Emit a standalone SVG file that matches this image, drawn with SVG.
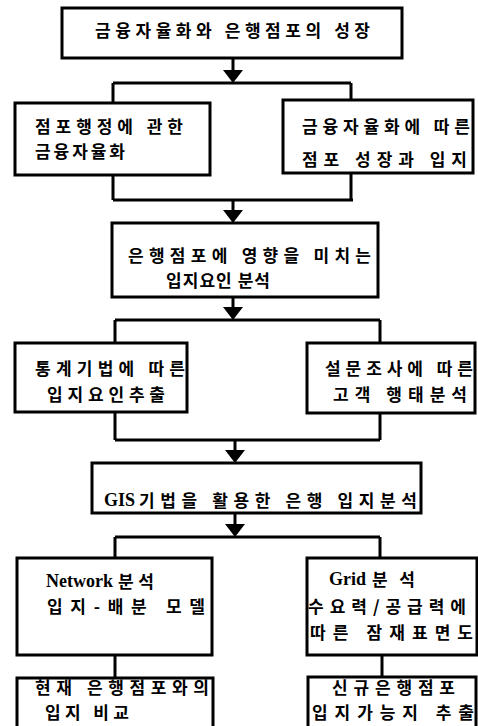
<svg xmlns="http://www.w3.org/2000/svg" width="478" height="726" viewBox="0 0 478 726">
<style>
.box{fill:#fff;stroke:#000;stroke-width:3}
.ln{fill:none;stroke:#000;stroke-width:3}
.t{font-family:"Noto Sans CJK KR","Noto Sans",sans-serif;font-weight:bold;font-size:17px;fill:#000}
.l{font-family:"Liberation Serif",serif;font-weight:bold;font-size:18px;fill:#000}
</style>
<rect width="478" height="726" fill="#fff"/>
<g id="connectors">
<path class="ln" d="M233,58 V72"/><path d="M223,70 L243,70 L233,83 Z"/>
<path class="ln" d="M113,83 H351 M113,83 V103 M351,83 V100"/>
<path class="ln" d="M113,175 V200 M351,173 V200 M113,200 H353 M233,200 V212"/><path d="M223,210 L243,210 L233,223 Z"/>
<path class="ln" d="M233,297 V309"/><path d="M223,307 L243,307 L233,320 Z"/>
<path class="ln" d="M115,320 H380 M115,320 V343 M380,320 V343"/>
<path class="ln" d="M115,412 V440 M380,413 V440 M115,440 H380 M235,440 V452"/><path d="M225,450 L245,450 L235,463 Z"/>
<path class="ln" d="M235,513 V526"/><path d="M225,524 L245,524 L235,537 Z"/>
<path class="ln" d="M115,537 H380 M115,537 V558 M380,537 V558"/>
<path class="ln" d="M115,655 V678 M382,655 V677"/>
</g>
<g id="n1"><rect class="box" x="62" y="8" width="340" height="50"/>
<text class="t" x="95" y="37" textLength="275" lengthAdjust="spacing">금융자율화와 은행점포의 성장</text></g>
<g id="n2"><rect class="box" x="15" y="103" width="195" height="72"/>
<text class="t" x="35" y="133" textLength="148" lengthAdjust="spacing">점포행정에 관한</text>
<text class="t" x="35" y="158" textLength="90" lengthAdjust="spacing">금융자율화</text></g>
<g id="n3"><rect class="box" x="283" y="100" width="190" height="73"/>
<text class="t" x="302" y="133" textLength="168" lengthAdjust="spacing">금융자율화에 따른</text>
<text class="t" x="302" y="166" textLength="165" lengthAdjust="spacing">점포 성장과 입지</text></g>
<g id="n4"><rect class="box" x="112" y="223" width="266" height="74"/>
<text class="t" x="128" y="262" textLength="243" lengthAdjust="spacing">은행점포에 영향을 미치는</text>
<text class="t" x="166" y="287" textLength="104" lengthAdjust="spacing">입지요인 분석</text></g>
<g id="n5"><rect class="box" x="15" y="343" width="172" height="69"/>
<text class="t" x="35" y="375" textLength="150" lengthAdjust="spacing">통계기법에 따른</text>
<text class="t" x="47" y="401" textLength="118" lengthAdjust="spacing">입지요인추출</text></g>
<g id="n6"><rect class="box" x="307" y="343" width="168" height="70"/>
<text class="t" x="325" y="375" textLength="148" lengthAdjust="spacing">설문조사에 따른</text>
<text class="t" x="333" y="401" textLength="134" lengthAdjust="spacing">고객 행태분석</text></g>
<g id="n7"><rect class="box" x="92" y="463" width="329" height="50"/>
<text class="l" x="104" y="506">GIS</text>
<text class="t" x="139" y="507" textLength="278" lengthAdjust="spacing">기법을 활용한 은행 입지분석</text></g>
<g id="n8"><rect class="box" x="17" y="558" width="195" height="97"/>
<text class="l" x="46" y="587">Network</text>
<text class="t" x="118" y="588" textLength="36" lengthAdjust="spacing">분석</text>
<text class="t" x="47" y="613" textLength="158" lengthAdjust="spacing">입지-배분 모델</text></g>
<g id="n9"><rect class="box" x="307" y="558" width="170" height="97"/>
<text class="l" x="329" y="585">Grid</text>
<text class="t" x="372" y="586" textLength="43" lengthAdjust="spacing">분석</text>
<text class="t" x="308" y="613" textLength="158" lengthAdjust="spacing">수요력/공급력에</text>
<text class="t" x="310" y="639" textLength="163" lengthAdjust="spacing">따른 잠재표면도</text></g>
<g id="n10"><rect class="box" x="17" y="678" width="196" height="60"/>
<text class="t" x="35" y="694" textLength="174" lengthAdjust="spacing">현재 은행점포와의</text>
<text class="t" x="45" y="719" textLength="84" lengthAdjust="spacing">입지 비교</text></g>
<g id="n11"><rect class="box" x="308" y="677" width="168" height="60"/>
<text class="t" x="332" y="694" textLength="123" lengthAdjust="spacing">신규은행점포</text>
<text class="t" x="312" y="719" textLength="162" lengthAdjust="spacing">입지가능지 추출</text></g>
</svg>
